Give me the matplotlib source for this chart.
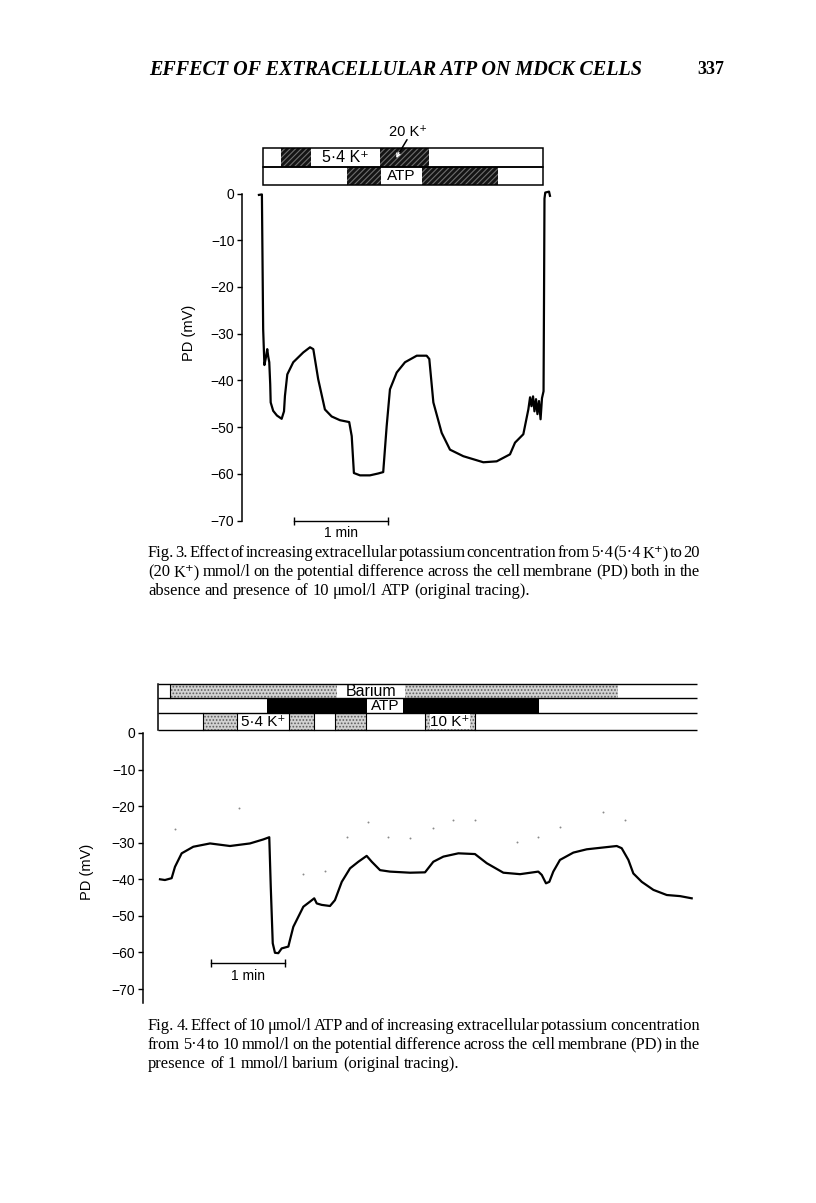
import matplotlib
matplotlib.use("Agg")
import matplotlib.pyplot as plt
from matplotlib.patches import Rectangle

W, H, DPI = 816, 1203, 100

# ---------------- data ----------------
# Fig. 3 trace: time (s) and PD (mV)
fig3_time_s = [8.3, 10.2, 11.0, 11.5, 11.8, 12.8, 13.6, 14.2, 14.9, 15.5, 15.8, 17.4,
               19.8, 22.8, 24.3, 24.9, 26.4, 30.2, 36.6, 40.9, 43.0, 46.1, 50.4, 54.7,
               60.0, 65.9, 67.5, 68.9, 72.8, 79.1, 84.4, 87.6, 89.8, 91.9, 96.2, 101.5,
               109.0, 115.3, 117.0, 119.6, 124.9, 130.2, 138.7, 151.5, 160.0, 168.5,
               171.7, 177.0, 180.2, 181.3, 182.2, 183.2, 184.1, 185.1, 186.0, 187.0,
               188.0, 188.9, 189.9, 190.2, 190.5, 191.0, 193.4, 194.0]
fig3_pd_mv = [-0.3, -0.2, -29.0, -33.9, -36.7, -35.0, -33.3, -34.8, -36.1, -40.8, -44.7, -46.5,
              -47.5, -48.2, -46.6, -43.3, -38.7, -36.1, -34.0, -32.9, -33.3, -39.7, -46.2, -47.7,
              -48.5, -48.9, -51.9, -59.8, -60.3, -60.3, -59.9, -59.6, -49.8, -41.9, -38.3, -36.1,
              -34.7, -34.7, -35.4, -44.7, -51.2, -54.8, -56.2, -57.5, -57.3, -55.8,
              -53.3, -51.5, -46.2, -43.6, -45.5, -43.4, -46.6, -44.0, -47.2, -44.4,
              -48.3, -43.8, -42.3, -22.5, -1.1, 0.2, 0.4, -0.5]

# Fig. 3 protocol bars (time edges in s)
fig3_k_edges = [10.7, 22.1, 41.5, 85.5, 116.8, 189.6]
fig3_k_fill = ["white", "hatch", "white", "hatch", "white"]
fig3_atp_edges = [10.7, 64.3, 86.2, 112.1, 160.8, 189.6]
fig3_atp_fill = ["white", "hatch", "white", "hatch", "white"]

# Fig. 4 trace
fig4_time_s = [12.1, 16.1, 21.5, 24.2, 29.6, 39.0, 52.5, 68.6, 84.7, 95.5, 100.3, 101.5,
               103.1, 104.9, 107.6, 110.3, 115.7, 117.0, 119.7, 127.8, 133.2, 136.6, 138.6,
               142.6, 149.3, 153.3, 158.8, 165.5, 172.2, 178.9, 183.0, 189.7, 197.7, 213.9,
               226.0, 232.7, 240.8, 252.9, 266.3, 275.8, 289.2, 302.7, 317.4, 320.2, 323.6,
               326.3, 329.5, 334.9, 345.7, 356.5, 369.9, 380.7, 384.7, 390.1, 394.1, 400.9,
               410.3, 421.1, 431.8, 441.2]
fig4_pd_mv = [-40.0, -40.2, -39.7, -36.6, -32.9, -31.1, -30.2, -30.9, -30.2, -29.1, -28.5, -42.0,
              -57.5, -60.1, -60.2, -58.9, -58.4, -56.6, -53.0, -47.5, -46.1, -45.2, -46.6,
              -47.0, -47.3, -45.7, -40.7, -37.0, -35.2, -33.6, -35.2, -37.5, -37.9, -38.2,
              -38.1, -35.2, -33.8, -32.9, -33.1, -35.6, -38.2, -38.6, -37.9, -38.8, -41.1,
              -40.7, -37.9, -34.7, -32.7, -31.8, -31.3, -30.9, -31.5, -34.7, -38.4, -40.7,
              -42.9, -44.3, -44.6, -45.2]

# small recorder specks in Fig. 4
fig4_speck_t = [75.9, 24.2, 162.8, 180.2, 196.4, 213.9, 127.8, 145.3, 232.4, 248.6,
                266.3, 300.0, 317.2, 335.0, 369.7, 387.4]
fig4_speck_mv = [-20.5, -26.3, -28.4, -24.3, -28.4, -28.8, -38.6, -37.7, -26.0, -23.8,
                 -23.8, -29.7, -28.4, -25.6, -21.6, -23.8]

# Fig. 4 protocol bars
fig4_ba_edges = [10.5, 20.2, 155.0, 209.8, 381.8, 445.5]
fig4_ba_fill = ["white", "stipple", "white", "stipple", "white"]
fig4_atp_edges = [10.5, 98.5, 179.2, 208.2, 317.7, 445.5]
fig4_atp_fill = ["white", "black", "white", "black", "white"]
fig4_k_edges = [10.5, 46.6, 74.1, 116.4, 136.7, 153.5, 178.7, 225.7, 266.7, 445.5]
fig4_k_fill = ["white", "stipple", "white", "stipple", "white", "stipple", "white",
               "stipple", "white"]

yticks = [0, -10, -20, -30, -40, -50, -60, -70]
scale_bar_s = 60

header = "EFFECT OF EXTRACELLULAR ATP ON MDCK CELLS"
page_no = "337"
cap3 = ["Fig. 3. Effect of increasing extracellular potassium concentration from 5·4 (5·4 K⁺) to 20",
        "(20 K⁺) mmol/l on the potential difference across the cell membrane (PD) both in the",
        "absence and presence of 10 μmol/l ATP (original tracing)."]
cap4 = ["Fig. 4. Effect of 10 μmol/l ATP and of increasing extracellular potassium concentration",
        "from 5·4 to 10 mmol/l on the potential difference across the cell membrane (PD) in the",
        "presence of 1 mmol/l barium (original tracing)."]

# ---------------- drawing ----------------
SANS = ["Liberation Sans", "DejaVu Sans"]
SERIF = ["Liberation Serif", "DejaVu Serif"]
plt.rcParams["hatch.linewidth"] = 0.8

fig = plt.figure(figsize=(W / DPI, H / DPI), dpi=DPI)
fig.patch.set_facecolor("white")


def fx(px):
    return px / W


def fy(py):
    return 1 - py / H


def trace_axes(left, right, top, bottom, xlim, ylim):
    ax = fig.add_axes([fx(left), fy(bottom), (right - left) / W, (bottom - top) / H])
    ax.set_xlim(*xlim)
    ax.set_ylim(*ylim)
    for s in ("top", "right", "bottom"):
        ax.spines[s].set_visible(False)
    ax.spines["left"].set_linewidth(1.1)
    ax.set_xticks([])
    ax.set_yticks(yticks)
    ax.tick_params(axis="y", direction="out", length=3.5, width=1.0, pad=2, labelsize=10)
    for lab in ax.get_yticklabels():
        lab.set_family(SANS)
    ax.patch.set_alpha(0)
    return ax


def draw_row(axb, edges, fills, y0, h):
    for (a, b), f in zip(zip(edges[:-1], edges[1:]), fills):
        if f == "hatch":
            axb.add_patch(Rectangle((a, y0), b - a, h, facecolor="#141414",
                                    edgecolor="#6e6e6e", hatch="//////", lw=0))
        elif f == "stipple":
            axb.add_patch(Rectangle((a, y0), b - a, h, facecolor="#d2d2d2",
                                    edgecolor="#5e5e5e", hatch=".....", lw=0))
        elif f == "black":
            axb.add_patch(Rectangle((a, y0), b - a, h, facecolor="black", lw=0))


# ---- Fig. 3 ----
ax3 = trace_axes(242, 560, 193.5, 520.7, (-2.5, 200.4), (-70, 0))
ax3.plot(fig3_time_s, fig3_pd_mv, color="black", lw=1.6, solid_joinstyle="round",
         clip_on=False)
sb0 = 30.6
ax3.plot([sb0, sb0 + scale_bar_s], [-70.1, -70.1], color="black", lw=1.0, marker="|",
         markersize=6, clip_on=False)
ax3.text(sb0 + scale_bar_s / 2, -72.7, "1 min", ha="center", va="center", fontsize=10,
         family=SANS)
fig.text(fx(189), fy(333), "PD (mV)", rotation=90, ha="center", va="center",
         fontsize=10.5, family=SANS)

axb3 = fig.add_axes([fx(242), fy(185), (560 - 242) / W, 37 / H])
axb3.set_xlim(ax3.get_xlim())
axb3.set_ylim(0, 2)
axb3.axis("off")
draw_row(axb3, fig3_k_edges, fig3_k_fill, 1, 1)
draw_row(axb3, fig3_atp_edges, fig3_atp_fill, 0, 1)
for y0, edges in ((1, fig3_k_edges), (0, fig3_atp_edges)):
    axb3.add_patch(Rectangle((edges[0], y0), edges[-1] - edges[0], 1, fill=False,
                             edgecolor="black", lw=1.1, clip_on=False))
axb3.text((fig3_k_edges[2] + fig3_k_edges[3]) / 2, 1.5, "5·4 K⁺", ha="center",
          va="center", fontsize=11.5, family=SANS)
axb3.text((fig3_atp_edges[2] + fig3_atp_edges[3]) / 2, 0.5, "ATP", ha="center",
          va="center", fontsize=11, family=SANS)
axb3.text(103.4, 2.86, "20 K⁺", ha="center", va="center", fontsize=10.5, family=SANS)
# pointer from the label into the 20 K+ block
axb3.annotate("", xy=(96.4, 1.55), xytext=(102.8, 2.45), annotation_clip=False,
              arrowprops=dict(arrowstyle="-", color="black", lw=1.1,
                              shrinkA=0, shrinkB=0))
axb3.annotate("", xy=(96.0, 1.45), xytext=(97.6, 1.75), annotation_clip=False,
              arrowprops=dict(arrowstyle="->", color="white", lw=1.0,
                              shrinkA=0, shrinkB=0, mutation_scale=6))

# ---- Fig. 4 ----
ax4 = trace_axes(143, 700, 733, 1002.9, (-1.6, 447.9), (-73.8, 0))
ax4.plot(fig4_speck_t, fig4_speck_mv, linestyle="none", marker="o", markersize=1.4,
         color="#8a8a8a", markeredgewidth=0)
ax4.plot(fig4_time_s, fig4_pd_mv, color="black", lw=1.6, solid_joinstyle="round")
sb4 = 53.3
ax4.plot([sb4, sb4 + scale_bar_s], [-62.8, -62.8], color="black", lw=1.0, marker="|",
         markersize=6)
ax4.text(sb4 + scale_bar_s / 2, -66.4, "1 min", ha="center", va="center", fontsize=10,
         family=SANS)
fig.text(fx(87), fy(872), "PD (mV)", rotation=90, ha="center", va="center",
         fontsize=10.5, family=SANS)

axb4 = fig.add_axes([fx(143), fy(730), (700 - 143) / W, 46 / H])
axb4.set_xlim(ax4.get_xlim())
axb4.set_ylim(0, 46)
axb4.axis("off")
rows4 = [(32, 14, fig4_ba_edges, fig4_ba_fill), (17, 15, fig4_atp_edges, fig4_atp_fill),
         (0, 17, fig4_k_edges, fig4_k_fill)]
for y0, h, edges, fills in rows4:
    draw_row(axb4, edges, fills, y0, h)
x_left, x_right = fig4_k_edges[0], fig4_k_edges[-1]
for yy in (0, 17, 32, 46):
    axb4.plot([x_left, x_right], [yy, yy], color="black", lw=1.0, clip_on=False,
              solid_capstyle="butt")
axb4.plot([x_left, x_left], [0, 46], color="black", lw=1.1, clip_on=False)
for e in fig4_k_edges[1:-1]:
    axb4.plot([e, e], [0, 17], color="black", lw=0.8, clip_on=False)
axb4.plot([fig4_ba_edges[1], fig4_ba_edges[1]], [32, 46], color="black", lw=0.8)
axb4.text((fig4_ba_edges[2] + fig4_ba_edges[3]) / 2, 39, "Barium", ha="center",
          va="center", fontsize=11.5, family=SANS)
axb4.text((fig4_atp_edges[2] + fig4_atp_edges[3]) / 2, 24.5, "ATP", ha="center",
          va="center", fontsize=11, family=SANS)
axb4.text((fig4_k_edges[2] + fig4_k_edges[3]) / 2, 8.5, "5·4 K⁺", ha="center",
          va="center", fontsize=11, family=SANS)
axb4.text((fig4_k_edges[7] + fig4_k_edges[8]) / 2, 8.5, "10 K⁺", ha="center",
          va="center", fontsize=11, family=SANS,
          bbox=dict(facecolor="white", edgecolor="none", pad=0.3))

# ---- page text ----
renderer = fig.canvas.get_renderer()

ht = fig.text(fx(149), fy(70), header, ha="left", va="center", fontsize=13,
              style="italic", weight="bold", family=SERIF)
wpx = ht.get_window_extent(renderer).width
ht.set_fontsize(13 * 492 / wpx)
fig.text(fx(711), fy(70), page_no, ha="center", va="center", fontsize=13,
         weight="bold", family=SERIF)

probe = fig.text(0, 0, cap3[2], fontsize=10, family=SERIF)
cap_fs = 10 * 382 / probe.get_window_extent(renderer).width
probe.remove()
space_px = cap_fs * DPI / 72 * 0.25


def caption(lines, y_first, dy=19.0, x0=148, x1=700):
    for i, line in enumerate(lines):
        words = line.split(" ")
        texts = [fig.text(0, fy(y_first + i * dy), w, ha="left", va="center",
                          fontsize=cap_fs, family=SERIF) for w in words]
        widths = [t.get_window_extent(renderer).width for t in texts]
        if i < len(lines) - 1:
            gap = (x1 - x0 - sum(widths)) / (len(words) - 1)
        else:
            gap = space_px
        x = x0
        for t, w in zip(texts, widths):
            t.set_x(fx(x))
            x += w + gap


caption(cap3, 553)
caption(cap4, 1026)

fig.savefig("out.png", dpi=DPI, facecolor="white")
